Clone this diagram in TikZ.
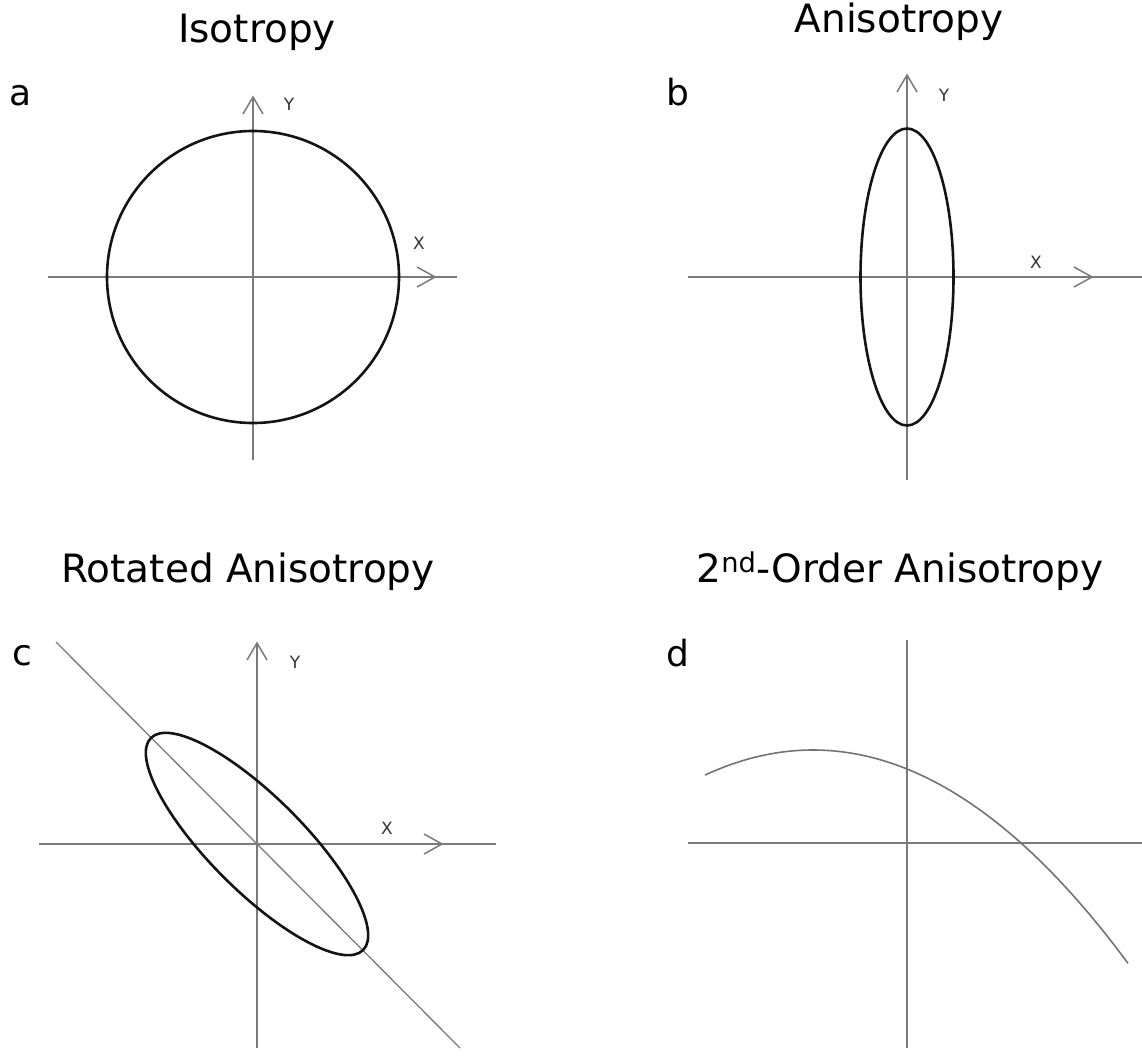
\documentclass[tikz,border=0pt]{standalone}
\usepackage{fontspec}
\setmainfont{DejaVu Sans}
\begin{document}
\begin{tikzpicture}[x=1pt,y=-1pt,
  axis/.style={draw=black!52, line width=1.5pt},
  shapeline/.style={draw=black!92, line width=2.6pt},
  curveline/.style={draw=black!55, line width=1.6pt},
  title/.style={anchor=base, inner sep=0pt, font=\fontsize{39}{44}\selectfont},
  panel/.style={anchor=base, inner sep=0pt, font=\fontsize{36}{40}\selectfont},
  axlabel/.style={inner sep=0pt, text=black!80, font=\fontsize{17}{19}\selectfont},
  chevR/.pic={\draw[axis] (-18,-10) -- (0,0) -- (-18,10);},
  chevU/.pic={\draw[axis] (-10,17) -- (0,0) -- (10,17);}]
\useasboundingbox (0,0) rectangle (1142,1057);

% ---------- panel a ----------
\node[title] (ta) at (257,42) {Isotropy};
\node[panel] (la) at (21,105) {a};
\coordinate (ao) at (253,277);
\draw[axis] (48,277) -- (457,277);
\draw[axis] (253,97) -- (253,460);
\pic at (435,277) {chevR};
\pic at (253,97) {chevU};
\node[axlabel] (ay) at (289,104) {Y};
\node[axlabel] (ax) at (419,243) {X};
\draw[shapeline] (ao) circle (146);

% ---------- panel b ----------
\node[title] (tb) at (899,33) {Anisotropy};
\node[panel] (lb) at (678,105) {b};
\coordinate (bo) at (907,277);
\draw[axis] (688,277) -- (1142,277);
\draw[axis] (907,75) -- (907,480);
\pic at (1092,277) {chevR};
\pic at (907,75) {chevU};
\node[axlabel] (by) at (944,95) {Y};
\node[axlabel] (bx) at (1036,262) {X};
\draw[shapeline] (bo) ellipse [x radius=46.5, y radius=148.5];

% ---------- panel c ----------
\node[title] (tc) at (248,582) {Rotated Anisotropy};
\node[panel] (lc) at (22,665) {c};
\coordinate (co) at (257,844);
\draw[axis] (39,844) -- (496,844);
\draw[axis] (257,643) -- (257,1048);
\pic at (442,844) {chevR};
\pic at (257,643) {chevU};
\node[axlabel] (cy) at (295,662) {Y};
\node[axlabel] (cx) at (387,828) {X};
\coordinate (cd1) at (56,642);
\coordinate (cd2) at (460,1048);
\draw[axis, line width=1.3pt] (cd1) -- (cd2);
\draw[shapeline, rotate around={-45:(co)}] (co) ellipse [x radius=150, y radius=47];

% ---------- panel d ----------
\node[title] (td) at (900,582) {2\textsuperscript{nd}-Order Anisotropy};
\node[panel] (ld) at (678,666) {d};
\draw[axis] (688,843) -- (1142,843);
\draw[axis] (907,640) -- (907,1048);
\draw[curveline] plot[domain=705:1128, samples=80, smooth]
  (\x, {750+0.215*((\x-813)/10)^2});
\end{tikzpicture}
\end{document}
